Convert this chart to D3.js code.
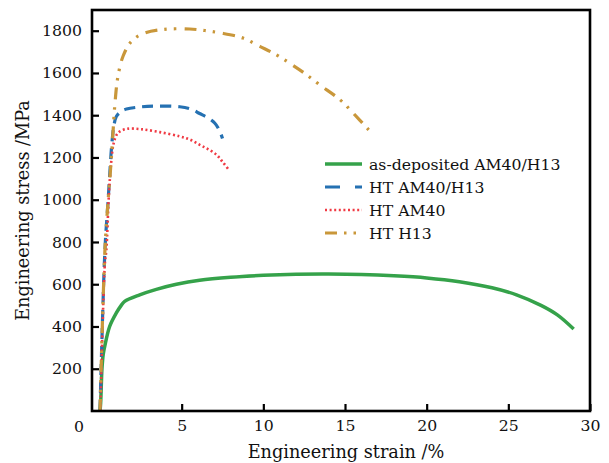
<!DOCTYPE html>
<html>
<head>
<meta charset="utf-8">
<script src="https://cdn.jsdelivr.net/npm/d3@7"></script>
<style>
  body { margin: 0; background: #fff; }
  svg text { font-family: "DejaVu Serif", serif; fill: #111; }
</style>
</head>
<body>
<div class="container"></div>
<script>
// strain (%), stress (MPa)
var asDeposited = [[0,0],[0.04,38],[0.12,200],[0.2,270],[0.29,306],[0.59,400],[1.0,464],[1.3,500],[1.51,519],[2.43,550],
	[3.45,576],[4.68,600],[6.1,619],[8.0,633],[10.0,642],[12.0,647],[14.0,648],[16.0,646],[18.0,640],[20.0,630],
	[22.0,612],[24.0,583],[25.5,550],[27.0,500],[28.0,455],[29.0,388]];
var htAm40H13 = [[0,0],[0.3,760],[0.5,1000],[0.62,1150],[0.72,1260],[0.85,1350],[1.0,1394],[1.3,1418],[1.62,1429],
	[2.43,1439],[3.45,1443],[4.88,1440],[5.6,1428],[6.1,1408],[6.6,1388],[7.02,1363],[7.3,1330],[7.5,1290]];
var htAm40 = [[0.02,0],[0.3,700],[0.39,763],[0.55,1032],[0.7,1189],[0.84,1268],[1.1,1316],[1.62,1335],[2.5,1334],
	[3.66,1320],[4.88,1300],[5.5,1285],[6.1,1260],[6.6,1240],[7.13,1213],[7.5,1180],[7.9,1140]];
var htH13 = [[0,0],[0.3,760],[0.5,1000],[0.65,1150],[0.78,1300],[0.92,1460],[1.1,1584],[1.41,1679],[1.92,1749],
	[2.63,1786],[3.86,1806],[5.49,1808],[6.5,1800],[7.33,1790],[8.76,1765],[9.78,1726],[10.8,1686],[11.6,1647],
	[12.5,1600],[13.45,1544],[14.7,1473],[15.5,1410],[16.45,1331]];

var seriesNames = ['as-deposited AM40/H13','HT AM40/H13','HT AM40','HT H13'];
var xTicks = [5,10,15,20,25,30];
var yTicks = [200,400,600,800,1000,1200,1400,1600,1800];

var series = [
	{name: seriesNames[0], data: asDeposited, color: '#35a24a', width: 3.5, dash: null},
	{name: seriesNames[1], data: htAm40H13, color: '#2571b2', width: 3.2, dash: '11,7'},
	{name: seriesNames[2], data: htAm40, color: '#f03a43', width: 2.6, dash: '2,2.6'},
	{name: seriesNames[3], data: htH13, color: '#c9973a', width: 3.2, dash: '12,7,2.5,7,2.5,8'}
];

var L = 92, R = 590, T = 10, B = 411;

var svg = d3.select('.container').append('svg').attr('width',609).attr('height',463);

var x = d3.scaleLinear().domain([-0.49,30]).range([L,R]);
var y = d3.scaleLinear().domain([0,1898]).range([B,T]);

var line = d3.line()
	.x(function(d){ return x(d[0]); })
	.y(function(d){ return y(d[1]); })
	.curve(d3.curveCatmullRom.alpha(0.5));

svg.selectAll('path.curve')
	.data(series)
	.enter()
	.append('path')
	.attr('class','curve')
	.attr('d',function(d){ return line(d.data); })
	.attr('fill','none')
	.attr('stroke',function(d){ return d.color; })
	.attr('stroke-width',function(d){ return d.width; })
	.attr('stroke-dasharray',function(d){ return d.dash; })
	.attr('stroke-linejoin','round');

var xAxis = svg.append('g')
	.attr('transform','translate(0,'+B+')')
	.call(d3.axisBottom(x).tickValues(xTicks).tickSizeInner(-7).tickSizeOuter(0).tickPadding(9));
var yAxis = svg.append('g')
	.attr('transform','translate('+L+',0)')
	.call(d3.axisLeft(y).tickValues(yTicks).tickFormat(d3.format('d')).tickSizeInner(-7).tickSizeOuter(0).tickPadding(10));

[xAxis, yAxis].forEach(function(g){
	g.select('.domain').remove();
	g.selectAll('.tick line').attr('stroke','#000').attr('stroke-width',2.2);
	g.selectAll('.tick text').attr('font-size',15.7).attr('font-family','DejaVu Serif').attr('fill','#111');
});

// origin label at the corner
svg.append('text').attr('x',79).attr('y',432).attr('text-anchor','middle')
	.attr('font-size',15.7).text('0');

svg.append('rect')
	.attr('x',L).attr('y',T).attr('width',R-L).attr('height',B-T)
	.attr('fill','none').attr('stroke','#000').attr('stroke-width',2.6);

svg.append('text').attr('x',346).attr('y',458).attr('text-anchor','middle')
	.attr('font-size',17.7).text('Engineering strain /%');
svg.append('text').attr('transform','translate(29,'+((T+B)/2)+') rotate(-90)')
	.attr('text-anchor','middle').attr('font-size',17.7).text('Engineering stress /MPa');

var legend = svg.selectAll('g.legend')
	.data(series)
	.enter()
	.append('g')
	.attr('class','legend')
	.attr('transform',function(d,i){ return 'translate(325,'+(164+i*23)+')'; });

legend.append('line')
	.attr('x1',0).attr('x2',37).attr('y1',0).attr('y2',0)
	.attr('stroke',function(d){ return d.color; })
	.attr('stroke-width',function(d){ return d.width; })
	.attr('stroke-dasharray',function(d){ return d.dash == '11,7' ? '15,15' : d.dash; });

legend.append('text')
	.attr('x',44).attr('y',5.5)
	.attr('font-size',15.7)
	.text(function(d){ return d.name; });
</script>
</body>
</html>
